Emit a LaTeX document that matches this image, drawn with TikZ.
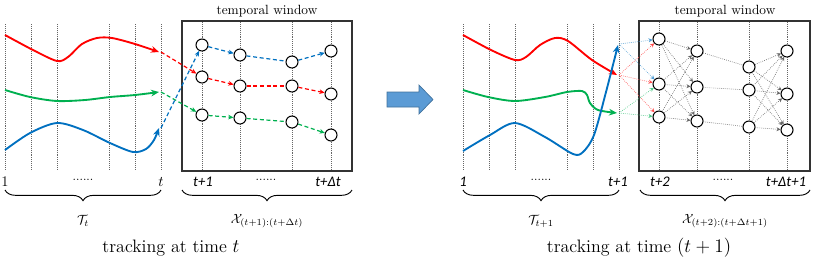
\documentclass[tikz,border=0pt]{standalone}
\usepackage{fontspec}
\newfontfamily\calfont{Carlito}
\usetikzlibrary{arrows.meta,decorations.pathreplacing}

\definecolor{trkred}{RGB}{255,0,0}
\definecolor{trkgreen}{RGB}{0,176,80}
\definecolor{trkblue}{RGB}{0,112,192}
\definecolor{arrfill}{RGB}{91,155,213}
\definecolor{arrdraw}{RGB}{65,113,156}

\begin{document}
\begin{tikzpicture}[x=0.75pt, y=-0.75pt, font=\fontsize{10}{12}\selectfont,
    timeline/.style={gray!80!black, densely dotted, line width=0.45pt},
    window/.style={draw=gray!40!black, line width=0.9pt},
    det/.style={circle, draw, line width=0.8pt, fill=white, minimum size=9pt, inner sep=0pt},
    trk/.style={line width=1.4pt, -{Stealth[length=6pt, width=5pt]}},
    link/.style={dash pattern=on 3pt off 2pt, line width=0.9pt, -{Stealth[length=4pt, width=3.5pt]}},
    linkmid/.style={dash pattern=on 3pt off 2pt, line width=0.9pt},
    cand/.style={densely dotted, line width=0.5pt, -{Stealth[length=3pt, width=3pt]}},
    candmid/.style={densely dotted, line width=0.5pt},
    tlab/.style={font=\calfont\itshape\fontsize{11}{13}\selectfont},
    dots/.style={font=\fontsize{9}{11}\selectfont},
    brace/.style={decorate, decoration={brace, mirror, amplitude=8pt}, line width=0.7pt},
    caption/.style={font=\fontsize{13.5}{16}\selectfont}]

    \useasboundingbox (0,0) rectangle (813,262);

    % ---------- tracking at time t ----------
    \draw[timeline] (5,24) -- (5,170);
    \draw[timeline] (31,24) -- (31,170);
    \draw[timeline] (57,24) -- (57,170);
    \draw[timeline] (109,24) -- (109,170);
    \draw[timeline] (135,24) -- (135,170);
    \draw[timeline] (161,24) -- (161,170);

    \draw[window] (182,21) rectangle (352,171);
    \node (lwin) at (267,11) {temporal window};
    \draw[timeline] (202,22) -- (202,170);
    \draw[timeline] (240,22) -- (240,170);
    \draw[timeline] (292,22) -- (292,170);
    \draw[timeline] (331,22) -- (331,170);

    \node[det] (l1a) at (202,45) {};
    \node[det] (l1b) at (202,77) {};
    \node[det] (l1c) at (202,115) {};
    \node[det] (l2a) at (240,55) {};
    \node[det] (l2b) at (240,86) {};
    \node[det] (l2c) at (240,118) {};
    \node[det] (l3a) at (292,62) {};
    \node[det] (l3b) at (292,86) {};
    \node[det] (l3c) at (292,122) {};
    \node[det] (l4a) at (331,51) {};
    \node[det] (l4b) at (331,94) {};
    \node[det] (l4c) at (331,135) {};

    \draw[trk, trkred] plot[smooth] coordinates {(5,35) (33,50) (57,61) (68,57) (82,44) (97,38) (112,38) (135,44) (159,52)};
    \draw[trk, trkgreen] plot[smooth] coordinates {(5,90) (30,97) (57,101) (85,100) (110,97) (135,95) (159,92)};
    \draw[trk, trkblue] plot[smooth] coordinates {(5,150) (30,133) (57,123) (83,130) (110,143) (133,152) (146,149) (154,140) (159,128)};

    \coordinate (lr) at (161,52);
    \coordinate (lg) at (161,92);
    \coordinate (lb) at (161,128);

    \draw[link, trkred] (lr) -- (l1b);
    \draw[link, trkgreen] (lg) -- (l1c);
    \draw[link, trkblue] (lb) -- (l1a);

    \draw[link, trkblue] (l1a) -- (l2a);
    \draw[linkmid, trkblue] (l2a) -- (l3a);
    \draw[link, trkblue] (l3a) -- (l4a);
    \draw[link, trkred] (l1b) -- (l2b);
    \draw[linkmid, trkred] (l2b) -- (l3b);
    \draw[link, trkred] (l3b) -- (l4b);
    \draw[link, trkgreen] (l1c) -- (l2c);
    \draw[linkmid, trkgreen] (l2c) -- (l3c);
    \draw[link, trkgreen] (l3c) -- (l4c);

    \node (lone) at (5,182) {\fontsize{11}{13}\selectfont 1};
    \node[dots] (ldots) at (83,180) {......};
    \node (lt) at (161,182) {\fontsize{11}{13}\selectfont $t$};
    \node[tlab] (lwa) at (203,182) {t+1};
    \node[dots] (lwdots) at (266,180) {......};
    \node[tlab] (lwb) at (328,182) {t+Δt};

    \draw[brace] (5,190) -- (161,190);
    \draw[brace] (182,190) -- (352,190);
    \node (lT) at (83,221) {$\mathcal{T}_t$};
    \node (lX) at (267,221) {$\mathcal{X}_{(t+1):(t+\Delta t)}$};
    \node[caption] (lcap) at (171,248) {tracking at time $t$};

    % ---------- block arrow ----------
    \filldraw[fill=arrfill, draw=arrdraw, line width=0.5pt] (387,92) -- (419,92) -- (419,85) -- (433,99.5) -- (419,114) -- (419,107) -- (387,107) -- cycle;

    % ---------- tracking at time t+1 ----------
    \draw[timeline] (463,24) -- (463,170);
    \draw[timeline] (489,24) -- (489,170);
    \draw[timeline] (515,24) -- (515,170);
    \draw[timeline] (567,24) -- (567,170);
    \draw[timeline] (593,24) -- (593,170);
    \draw[timeline] (619,24) -- (619,170);

    \draw[window] (639,21) rectangle (810,171);
    \node (rwin) at (725,11) {temporal window};
    \draw[timeline] (659,22) -- (659,170);
    \draw[timeline] (697,22) -- (697,170);
    \draw[timeline] (749,22) -- (749,170);
    \draw[timeline] (787,22) -- (787,170);

    \node[det] (r1a) at (659,39) {};
    \node[det] (r1b) at (659,84) {};
    \node[det] (r1c) at (659,117) {};
    \node[det] (r2a) at (697,51) {};
    \node[det] (r2b) at (697,87) {};
    \node[det] (r2c) at (697,121) {};
    \node[det] (r3a) at (749,67) {};
    \node[det] (r3b) at (749,90) {};
    \node[det] (r3c) at (749,127) {};
    \node[det] (r4a) at (787,51) {};
    \node[det] (r4b) at (787,94) {};
    \node[det] (r4c) at (787,130) {};

    \draw[trk, trkred] plot[smooth] coordinates {(463,35) (491,50) (515,60) (526,57) (540,45) (555,38) (568,41) (592,60) (617,75)};
    \draw[trk, trkgreen] plot[smooth] coordinates {(463,90) (488,97) (515,101) (545,97) (567,92) (582,91) (587,95) (590,103) (598,110) (617,113)};
    \draw[trk, trkblue] plot[smooth] coordinates {(463,151) (490,135) (515,123) (545,137) (573,154) (583,152) (594,135) (606,92) (618,45)};

    \coordinate (rb) at (619,44);
    \coordinate (rr) at (619,75);
    \coordinate (rg) at (619,113);

    \draw[cand, trkblue!70] (rb) -- (r1a);
    \draw[cand, trkblue!70] (rb) -- (r1b);
    \draw[cand, trkred!70] (rr) -- (r1a);
    \draw[cand, trkred!70] (rr) -- (r1b);
    \draw[cand, trkred!70] (rr) -- (r1c);
    \draw[cand, trkgreen!70] (rg) -- (r1b);
    \draw[cand, trkgreen!70] (rg) -- (r1c);

    \draw[cand, gray!80!black] (r1a) -- (r2a);
    \draw[cand, gray!80!black] (r1a) -- (r2b);
    \draw[cand, gray!80!black] (r1a) -- (r2c);
    \draw[cand, gray!80!black] (r1b) -- (r2a);
    \draw[cand, gray!80!black] (r1b) -- (r2b);
    \draw[cand, gray!80!black] (r1b) -- (r2c);
    \draw[cand, gray!80!black] (r1c) -- (r2a);
    \draw[cand, gray!80!black] (r1c) -- (r2b);
    \draw[cand, gray!80!black] (r1c) -- (r2c);
    \draw[candmid, gray!80!black] (r2a) -- (r3a);
    \draw[candmid, gray!80!black] (r2b) -- (r3b);
    \draw[candmid, gray!80!black] (r2c) -- (r3c);
    \draw[cand, gray!80!black] (r3a) -- (r4a);
    \draw[cand, gray!80!black] (r3a) -- (r4b);
    \draw[cand, gray!80!black] (r3a) -- (r4c);
    \draw[cand, gray!80!black] (r3b) -- (r4a);
    \draw[cand, gray!80!black] (r3b) -- (r4b);
    \draw[cand, gray!80!black] (r3b) -- (r4c);
    \draw[cand, gray!80!black] (r3c) -- (r4a);
    \draw[cand, gray!80!black] (r3c) -- (r4b);
    \draw[cand, gray!80!black] (r3c) -- (r4c);

    \node[tlab] (rone) at (463,182) {1};
    \node[dots] (rdots) at (541,180) {......};
    \node[tlab] (rt) at (618,182) {t+1};
    \node[tlab] (rwa) at (660,182) {t+2};
    \node[dots] (rwdots) at (723,180) {......};
    \node[tlab] (rwb) at (786,182) {t+Δt+1};

    \draw[brace] (463,190) -- (619,190);
    \draw[brace] (640,190) -- (810,190);
    \node (rT) at (541,221) {$\mathcal{T}_{t+1}$};
    \node (rX) at (725,221) {$\mathcal{X}_{(t+2):(t+\Delta t+1)}$};
    \node[caption] (rcap) at (639,248) {tracking at time $(t+1)$};
\end{tikzpicture}
\end{document}
